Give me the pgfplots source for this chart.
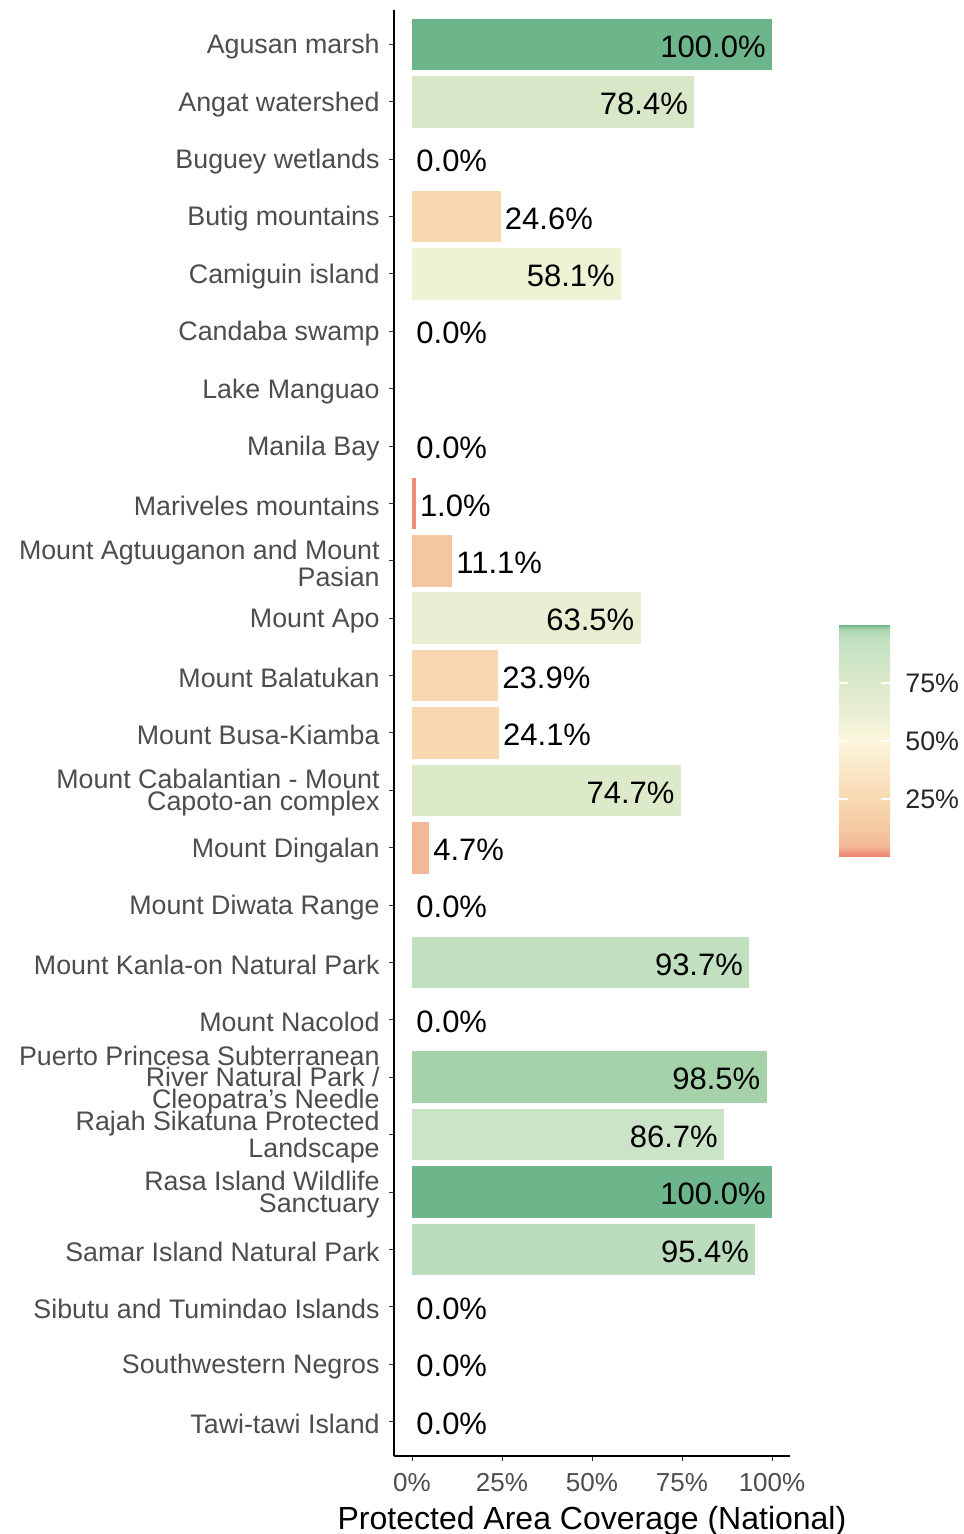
\documentclass[border=0pt]{standalone}
\usepackage{fontspec}
\setmainfont{Liberation Sans}
\usepackage{pgfplots}
\pgfplotsset{compat=1.18}
\definecolor{tickgray}{RGB}{77,77,77}
\definecolor{cA}{RGB}{109,181,138}   % 100
\definecolor{cB}{RGB}{166,210,170}   % 98.5
\definecolor{cC}{RGB}{188,221,189}   % 95.4
\definecolor{cD}{RGB}{193,224,192}   % 93.7
\definecolor{cE}{RGB}{203,228,200}   % 86.7
\definecolor{cF}{RGB}{215,231,200}   % 78.4
\definecolor{cG}{RGB}{220,234,202}   % 74.7
\definecolor{cH}{RGB}{232,238,210}   % 63.5
\definecolor{cI}{RGB}{240,242,214}   % 58.1
\definecolor{cJ}{RGB}{248,216,176}   % 24
\definecolor{cK}{RGB}{245,199,160}   % 11.1
\definecolor{cL}{RGB}{243,184,150}   % 4.7
\definecolor{cM}{RGB}{239,140,120}   % 1.0
\begin{document}
\begin{tikzpicture}
\useasboundingbox (0,0) rectangle (481.5pt,767pt);
\begin{axis}[
  at={(197pt,39pt)}, anchor=south west,
  scale only axis, width=198pt, height=723pt,
  xmin=-5, xmax=105, ymin=-0.6, ymax=24.6,
  axis x line*=bottom, axis y line*=left,
  axis line style={black, line width=0.6pt},
  tick align=outside, major tick length=2.5pt,
  tick style={black!80, line width=0.5pt},
  xtick={0,25,50,75,100},
  xticklabels={0\%,25\%,50\%,75\%,100\%},
  xticklabel style={font=\fontsize{13}{13}\selectfont, text=tickgray, inner sep=0pt, yshift=-6pt},
  ytick={0,...,24},
  yticklabels={
    Tawi-tawi Island,
    Southwestern Negros,
    Sibutu and Tumindao Islands,
    Samar Island Natural Park,
    {Rasa Island Wildlife\\Sanctuary},
    {Rajah Sikatuna Protected\\Landscape},
    {Puerto Princesa Subterranean\\River Natural Park /\\Cleopatra's Needle},
    Mount Nacolod,
    Mount Kanla-on Natural Park,
    Mount Diwata Range,
    Mount Dingalan,
    {Mount Cabalantian - Mount\\Capoto-an complex},
    Mount Busa-Kiamba,
    Mount Balatukan,
    Mount Apo,
    {Mount Agtuuganon and Mount\\Pasian},
    Mariveles mountains,
    Manila Bay,
    Lake Manguao,
    Candaba swamp,
    Camiguin island,
    Butig mountains,
    Buguey wetlands,
    Angat watershed,
    Agusan marsh},
  yticklabel style={font=\fontsize{13.4}{10.8}\selectfont, text=tickgray, align=right, inner sep=0pt, xshift=-4.5pt, yshift=-1.2pt},
  xlabel={Protected Area Coverage (National)},
  xlabel style={font=\fontsize{16}{16}\selectfont, inner sep=0pt, yshift=-7pt},
  colormap={prot}{rgb255(0pt)=(240,128,110); rgb255(10pt)=(239,140,120); rgb255(47pt)=(243,184,150);
    rgb255(111pt)=(245,199,160); rgb255(240pt)=(248,216,176); rgb255(500pt)=(251,245,220);
    rgb255(581pt)=(240,242,214); rgb255(635pt)=(232,238,210); rgb255(750pt)=(220,234,202);
    rgb255(784pt)=(215,231,200); rgb255(867pt)=(203,228,200); rgb255(937pt)=(193,224,192);
    rgb255(954pt)=(188,221,189); rgb255(985pt)=(166,210,170); rgb255(1000pt)=(109,181,138)},
  point meta min=0, point meta max=100,
  colorbar,
  colorbar/width=25.5pt,
  colorbar shift/.style={},
  colorbar style={
    at={(parent axis.south west)}, anchor=south west,
    xshift=222.5pt, yshift=299.5pt,
    scale only axis, height=116pt,
    ymin=0, ymax=100,
    ytick={25,50,75}, yticklabels={25\%,50\%,75\%},
    yticklabel pos=right,
    yticklabel style={font=\fontsize{13.4}{13.4}\selectfont, text=black!85, inner sep=0pt, xshift=7.5pt},
    tick align=inside, ytick pos=both, major tick length=4.7pt,
    tick style={white, line width=0.8pt},
    axis line style={draw=none},
  },
  every axis plot/.append style={draw=none},
]
% bars
\addplot[xbar, bar shift=0pt, bar width=0.9, fill=cA] coordinates {(100.0,24)};
\addplot[xbar, bar shift=0pt, bar width=0.9, fill=cF] coordinates {(78.4,23)};
\addplot[xbar, bar shift=0pt, bar width=0.9, fill=cJ] coordinates {(24.6,21)};
\addplot[xbar, bar shift=0pt, bar width=0.9, fill=cI] coordinates {(58.1,20)};
\addplot[xbar, bar shift=0pt, bar width=0.9, fill=cM] coordinates {(1.0,16)};
\addplot[xbar, bar shift=0pt, bar width=0.9, fill=cK] coordinates {(11.1,15)};
\addplot[xbar, bar shift=0pt, bar width=0.9, fill=cH] coordinates {(63.5,14)};
\addplot[xbar, bar shift=0pt, bar width=0.9, fill=cJ] coordinates {(23.9,13)};
\addplot[xbar, bar shift=0pt, bar width=0.9, fill=cJ] coordinates {(24.1,12)};
\addplot[xbar, bar shift=0pt, bar width=0.9, fill=cG] coordinates {(74.7,11)};
\addplot[xbar, bar shift=0pt, bar width=0.9, fill=cL] coordinates {(4.7,10)};
\addplot[xbar, bar shift=0pt, bar width=0.9, fill=cD] coordinates {(93.7,8)};
\addplot[xbar, bar shift=0pt, bar width=0.9, fill=cB] coordinates {(98.5,6)};
\addplot[xbar, bar shift=0pt, bar width=0.9, fill=cE] coordinates {(86.7,5)};
\addplot[xbar, bar shift=0pt, bar width=0.9, fill=cA] coordinates {(100.0,4)};
\addplot[xbar, bar shift=0pt, bar width=0.9, fill=cC] coordinates {(95.4,3)};
% labels outside (small values)
\addplot[draw=none, mark=none, point meta=x, nodes near coords={\pgfmathprintnumber[fixed,fixed zerofill,precision=1,assume math mode=true]{\pgfplotspointmeta}\%},
  every node near coord/.append style={anchor=west, inner sep=0pt, xshift=2pt, yshift=-1pt, font=\fontsize{15.5}{15.5}\selectfont, text=black}]
  coordinates {(0,22) (24.6,21) (0,19) (0,17) (1.0,16) (11.1,15) (23.9,13) (24.1,12) (4.7,10) (0,9) (0,7) (0,2) (0,1) (0,0)};
% labels inside (large values)
\addplot[draw=none, mark=none, point meta=x, nodes near coords={\pgfmathprintnumber[fixed,fixed zerofill,precision=1,assume math mode=true]{\pgfplotspointmeta}\%},
  every node near coord/.append style={anchor=east, inner sep=0pt, xshift=-3pt, yshift=-1pt, font=\fontsize{15.5}{15.5}\selectfont, text=black}]
  coordinates {(100.0,24) (78.4,23) (58.1,20) (63.5,14) (74.7,11) (93.7,8) (98.5,6) (86.7,5) (100.0,4) (95.4,3)};
\end{axis}
\end{tikzpicture}
\end{document}
